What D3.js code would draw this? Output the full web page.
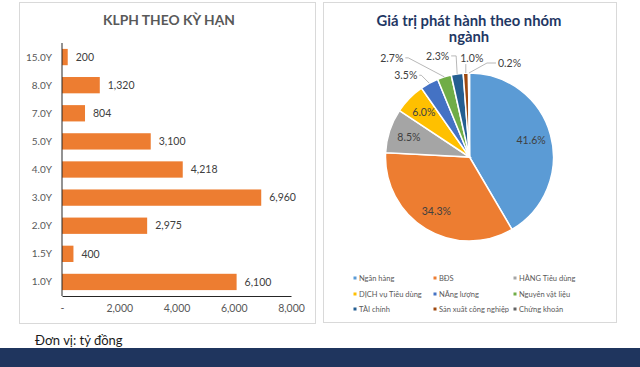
<!DOCTYPE html>
<meta charset="utf-8">
<body style="margin:0;background:#fff">
<div id="content"></div>
<script src="https://cdnjs.cloudflare.com/ajax/libs/d3/7.8.5/d3.min.js"></script>
<script>

// bar data: KLPH theo ky han
var terms = ['15.0Y', '8.0Y', '7.0Y', '5.0Y', '4.0Y', '3.0Y', '2.0Y', '1.5Y', '1.0Y']
var volumes = [200, 1320, 804, 3100, 4218, 6960, 2975, 400, 6100]
var xTicks = [0, 2000, 4000, 6000, 8000]

// pie data: gia tri phat hanh theo nhom nganh
var sectors = ['Ngân hàng', 'BĐS', 'HÀNG Tiêu dùng', 'DỊCH vụ Tiêu dùng', 'NĂng lượng',
  'Nguyên vật liệu', 'TÀI chính', 'Sản xuất công nghiệp', 'Chứng khoán']
var shares = [41.6, 34.3, 8.5, 6.0, 3.5, 2.7, 2.3, 1.0, 0.2]
var pieColors = ['#5B9BD5', '#ED7D31', '#A5A5A5', '#FFC000', '#4472C4', '#70AD47', '#255E91', '#9E480E', '#636363']

var W = 640, H = 367
var font = 'Lato, Calibri, sans-serif'

var svg = d3.select('#content').append('svg')
  .attr('width', W).attr('height', H)
  .style('font-family', font)

// panels
svg.append('rect').attr('x', 19.5).attr('y', 2.5).attr('width', 296).attr('height', 321)
  .attr('fill', '#fff').attr('stroke', '#D9D9D9')
svg.append('rect').attr('x', 323.5).attr('y', 2.5).attr('width', 293).attr('height', 320)
  .attr('fill', '#fff').attr('stroke', '#D9D9D9')

// bottom band
svg.append('rect').attr('x', 0).attr('y', 348).attr('width', W).attr('height', H - 348).attr('fill', '#1F355E')
svg.append('text').text('Đơn vị: tỷ đồng')
  .attr('x', 35).attr('y', 345).style('font-size', '13px').attr('fill', '#1a1a1a')

// ---------- bar chart ----------
svg.append('text').text('KLPH THEO KỲ HẠN')
  .attr('x', 169).attr('y', 25).attr('text-anchor', 'middle')
  .style('font-size', '13.8px').style('font-weight', 700).attr('fill', '#595959')

var x = d3.scaleLinear().domain([0, 8000]).range([62, 291])
var y = d3.scaleBand().domain(terms).range([43, 296]).paddingInner(0.42).paddingOuter(0.21)

var g = svg.append('g')

g.selectAll('rect.bar')
  .data(terms)
  .join('rect')
  .attr('class', 'bar')
  .attr('x', x(0))
  .attr('y', d => y(d))
  .attr('width', (d, i) => x(volumes[i]) - x(0))
  .attr('height', y.bandwidth())
  .attr('fill', '#ED7D31')

g.selectAll('text.val')
  .data(terms)
  .join('text')
  .attr('class', 'val')
  .attr('x', (d, i) => x(volumes[i]) + 8)
  .attr('y', d => y(d) + y.bandwidth() / 2)
  .attr('dy', '0.35em')
  .style('font-size', '10.5px')
  .attr('fill', '#404040')
  .text((d, i) => d3.format(',')(volumes[i]))

g.selectAll('text.cat')
  .data(terms)
  .join('text')
  .attr('class', 'cat')
  .attr('x', 52)
  .attr('y', d => y(d) + y.bandwidth() / 2)
  .attr('dy', '0.35em')
  .attr('text-anchor', 'end')
  .style('font-size', '10px')
  .attr('fill', '#595959')
  .text(d => d)

var xAxis = d3.axisBottom(x).tickValues(xTicks).tickSize(0).tickPadding(9)
  .tickFormat(d => d === 0 ? '-' : d3.format(',')(d))
var ax = svg.append('g').attr('transform', 'translate(0,296)').call(xAxis)
ax.select('.domain').attr('stroke', '#262626')
ax.selectAll('text').style('font-size', '10.5px').style('font-family', font).attr('fill', '#595959')

svg.append('line').attr('x1', 62).attr('x2', 62).attr('y1', 43).attr('y2', 296)
  .attr('stroke', '#262626')

// ---------- pie chart ----------
svg.append('text')
  .attr('x', 469).attr('y', 25.5).attr('text-anchor', 'middle')
  .style('font-size', '14.8px').style('font-weight', 700).attr('fill', '#1F3864')
  .selectAll('tspan').data(['Giá trị phát hành theo nhóm', 'ngành']).join('tspan')
  .attr('x', 469).attr('dy', (d, i) => i ? 16 : 0).text(d => d)

var cx = 469.5, cy = 157, r = 84
var pie = d3.pie().sort(null).value(d => d)
var arcs = pie(shares)
var arc = d3.arc().innerRadius(0).outerRadius(r)
var pg = svg.append('g').attr('transform', 'translate(' + cx + ',' + cy + ')')

pg.selectAll('path')
  .data(arcs)
  .join('path')
  .attr('d', arc)
  .attr('fill', (d, i) => pieColors[i])
  .attr('stroke', '#fff')
  .attr('stroke-width', 1.5)

var fmt = d => d3.format('.1f')(d) + '%'
var labelArc = d3.arc().innerRadius(r * 0.76).outerRadius(r * 0.76)

// first four inside, rest outside with leader lines
pg.selectAll('text.in')
  .data(arcs.slice(0, 4))
  .join('text')
  .attr('class', 'in')
  .attr('transform', d => 'translate(' + labelArc.centroid(d) + ')')
  .attr('text-anchor', 'middle').attr('dy', '0.35em')
  .style('font-size', '10.5px').attr('fill', '#404040')
  .text(d => fmt(d.data))

// small slices: label anchor offset from slice edge (dx, dy), anchor, elbow dx
var outerLayout = [
  [-11, -8, 'end', -8],
  [-40, -19, 'end', -36],
  [-7, -18, 'end', -1],
  [6, -13, 'middle', 0],
  [28, -10, 'start', 18]
]
var edgeArc = d3.arc().innerRadius(r).outerRadius(r)

arcs.slice(4).forEach(function (d, k) {
  var p = edgeArc.centroid(d)
  var L = outerLayout[k]
  var lx = p[0] + L[0], ly = p[1] + L[1]
  var pts
  if (L[2] === 'middle') pts = [p, [p[0], ly + 4]]
  else pts = [p, [p[0] + L[3], ly], [lx + (L[2] === 'end' ? 1 : -1), ly]]
  pg.append('polyline')
    .attr('points', pts.map(q => q.join(',')).join(' '))
    .attr('fill', 'none').attr('stroke', '#A6A6A6').attr('stroke-width', 0.8)
  pg.append('text')
    .attr('x', L[2] === 'middle' ? lx : lx + (L[2] === 'end' ? -1 : 1))
    .attr('y', L[2] === 'middle' ? ly - 2 : ly)
    .attr('dy', '0.35em')
    .attr('text-anchor', L[2])
    .style('font-size', '10.5px').attr('fill', '#404040')
    .text(fmt(d.data))
})

// legend
var colX = [355, 435, 515], rowY = [278, 294, 309]
var lg = svg.append('g')
sectors.forEach(function (s, i) {
  var cxl = colX[i % 3], cyl = rowY[Math.floor(i / 3)]
  lg.append('rect').attr('x', cxl - 1.5).attr('y', cyl - 1.5).attr('width', 3).attr('height', 3)
    .attr('fill', pieColors[i])
  lg.append('text').attr('x', cxl + 4).attr('y', cyl).attr('dy', '0.35em')
    .style('font-size', '7.5px').attr('fill', '#595959').text(s)
})

</script>
</body>
